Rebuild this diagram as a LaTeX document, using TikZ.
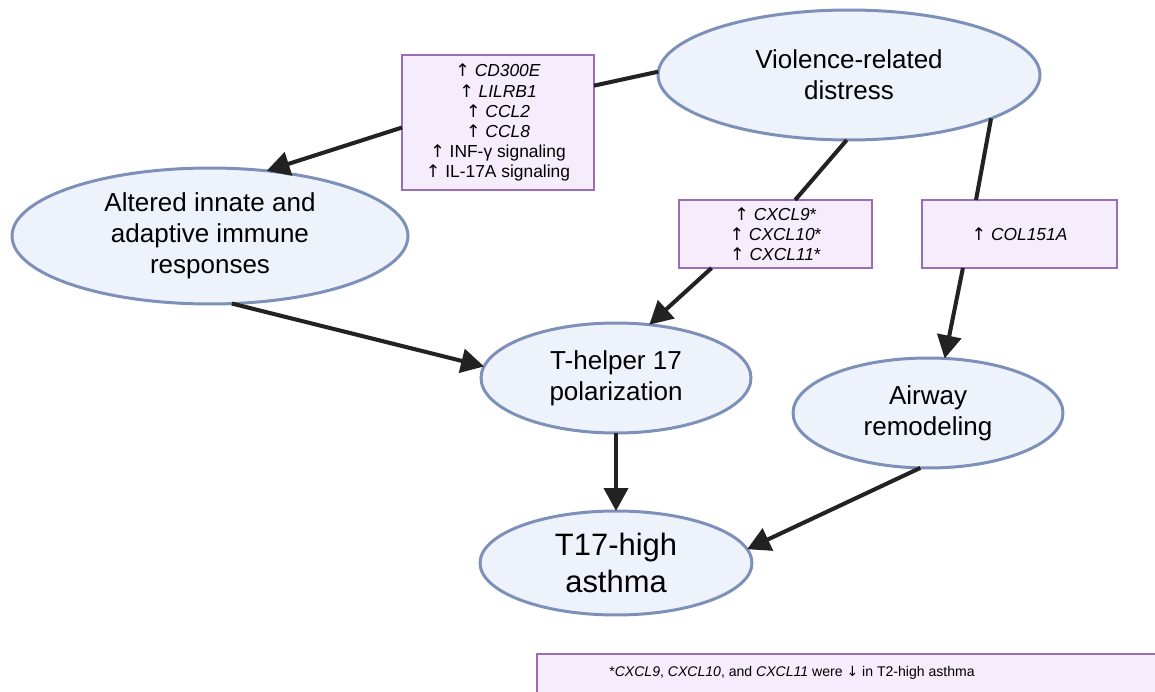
\documentclass[tikz,border=0pt]{standalone}
\usepackage{fontspec}
\setmainfont{Liberation Sans}
\newfontfamily\symfont{DejaVu Sans}
\newcommand{\upar}{{\symfont ↑}}
\newcommand{\downar}{{\symfont ↓}}
\usetikzlibrary{shapes.geometric,arrows.meta}
\definecolor{ellfill}{HTML}{EEF2FA}
\definecolor{ellline}{HTML}{7D90B9}
\definecolor{boxfill}{HTML}{F5ECFC}
\definecolor{boxline}{HTML}{9B6CB7}
\definecolor{arrowcol}{HTML}{222222}
\begin{document}
\begin{tikzpicture}[x=0.02cm, y=-0.02cm]
        \tikzstyle{state}=[draw=ellline, fill=ellfill, line width=1.7pt, ellipse, inner sep=0pt, outer sep=0pt, align=center, font=\fontsize{14.8}{17.6}\selectfont]
        \tikzstyle{genes}=[draw=boxline, fill=boxfill, line width=1.3pt, rectangle, inner sep=0pt, outer sep=0pt, align=center, font=\fontsize{9.9}{11.4}\selectfont]
        \tikzstyle{link}=[draw=arrowcol, line width=2.3pt]
        \tikzstyle{arr}=[link, -{Triangle[length=0.46cm, width=0.48cm]}]

        \clip (0,0) rectangle (1155,692);
        \fill[white] (0,0) rectangle (1155,692);

        \node[state, minimum width=7.64cm, minimum height=2.6cm] (viol) at (849,75) {Violence-related\\distress};
        \node[state, minimum width=7.92cm, minimum height=2.72cm] (altered) at (210,236) {Altered innate and\\adaptive immune\\responses};
        \node[state, minimum width=5.4cm, minimum height=2.2cm] (thelper) at (616,378) {T-helper 17\\polarization};
        \node[state, minimum width=5.4cm, minimum height=2.2cm] (airway) at (928,413) {Airway\\remodeling};
        \node[state, minimum width=5.44cm, minimum height=2.08cm, font=\fontsize{17.6}{21.5}\selectfont] (tseventeen) at (616,563) {T17-high\\asthma};

        \node[genes, minimum width=3.84cm, minimum height=2.7cm] (box1) at (498,122.5) {\upar{} \textit{CD300E}\\\upar{} \textit{LILRB1}\\\upar{} \textit{CCL2}\\\upar{} \textit{CCL8}\\\upar{} INF-γ signaling\\\upar{} IL-17A signaling};
        \node[genes, minimum width=3.86cm, minimum height=1.36cm] (box2) at (775.5,234) {\upar{} \textit{CXCL9}*\\\upar{} \textit{CXCL10}*\\\upar{} \textit{CXCL11}*};
        \node[genes, minimum width=3.9cm, minimum height=1.36cm] (box3) at (1019.5,234) {\upar{} \textit{COL151A}};

        % footnote, cut off by the page edge
        \draw[draw=boxline, fill=boxfill, line width=1.3pt] (537,654) rectangle (1175,705);
        \node[font=\fontsize{8}{10}\selectfont] (note) at (792,673) {*\textit{CXCL9}, \textit{CXCL10}, and \textit{CXCL11} were \downar{} in T2-high asthma};

        % connectors
        \draw[link] (box1.21) -- (viol.179);
        \draw[arr] (box1.183) -- (altered.49);
        \draw[link] (viol.268) -- (box2.60);
        \draw[arr] (box2.208) -- (thelper.58);
        \draw[link] (viol.343) -- (box3.142);
        \draw[arr] (box3.211) -- (airway.73);
        \draw[arr] (altered.288) -- (thelper.175);
        \draw[arr] (thelper.south) -- (tseventeen.north);
        \draw[arr] (airway.262) -- (tseventeen.6);
\end{tikzpicture}
\end{document}
